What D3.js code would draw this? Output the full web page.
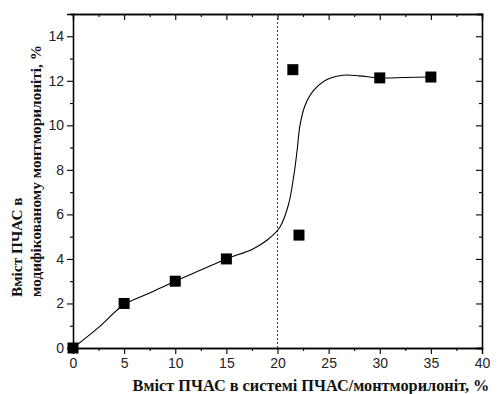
<!DOCTYPE html>
<html>
<head>
<meta charset="utf-8">
<script src="https://cdn.jsdelivr.net/npm/d3@7/dist/d3.min.js"></script>
<style>
  html, body { margin: 0; padding: 0; background: #fff; }
  svg { display: block; }
</style>
</head>
<body>
<svg id="chart" width="499" height="394"></svg>
<script>
// Measured points: PChAS content in the system vs. in the modified montmorillonite
const systemContent = [0, 5, 10, 15, 21.5, 22.1, 30, 35];
const modifiedContent = [0, 2, 3, 4, 12.5, 5.07, 12.13, 12.17];

// Fitted trend curve
const fitX = [0, 2.6, 5, 7.5, 10, 12.5, 15, 17.6, 19, 20.2, 21.05, 21.55, 21.9, 22.2, 22.7, 23.5, 24.8, 26.4, 28, 30, 32.5, 35];
const fitY = [0, 0.96, 1.95, 2.47, 3.0, 3.5, 4.0, 4.45, 4.85, 5.4, 6.4, 7.6, 8.8, 10.0, 10.9, 11.55, 12.05, 12.25, 12.22, 12.13, 12.15, 12.17];

// Critical composition marker
const thresholdX = 20;

const xTicks = [0, 5, 10, 15, 20, 25, 30, 35, 40];
const yTicks = [0, 2, 4, 6, 8, 10, 12, 14];

const xTitle = "Вміст ПЧАС в системі ПЧАС/монтморилоніт, %";
const yTitle1 = "Вміст ПЧАС в";
const yTitle2 = "модифікованому монтморилоніті, %";

const svg = d3.select("#chart");
const L = 73, R = 482, T = 14, B = 348;

const x = d3.scaleLinear().domain([0, 40]).range([L, R]);
const y = d3.scaleLinear().domain([0, 15]).range([B, T]);

const xMinor = d3.range(0, 40.01, 2.5).filter(v => v % 5 !== 0);
const yMinor = d3.range(0, 15.01, 1).filter(v => v % 2 !== 0);

const tickFont = "Liberation Sans, Arial, sans-serif";
const titleFont = "Liberation Serif, Times New Roman, serif";

function styleAxis(g) {
  g.selectAll("path.domain").attr("stroke", "#000").attr("stroke-width", 1.3);
  g.selectAll(".tick line").attr("stroke", "#000").attr("stroke-width", 1.1);
  g.selectAll("text").attr("font-family", tickFont).attr("font-size", 14).attr("fill", "#222");
}

// Bottom axis
svg.append("g").attr("transform", `translate(0,${B})`)
  .call(d3.axisBottom(x).tickValues(xTicks).tickSize(6).tickPadding(4).tickFormat(d3.format("d")))
  .call(styleAxis);
svg.append("g").attr("transform", `translate(0,${B})`)
  .call(d3.axisBottom(x).tickValues(xMinor).tickSize(3).tickFormat(""))
  .call(styleAxis);

// Top axis (ticks pointing down into the plot)
svg.append("g").attr("transform", `translate(0,${T})`)
  .call(d3.axisBottom(x).tickValues(xTicks).tickSize(6).tickFormat(""))
  .call(styleAxis);
svg.append("g").attr("transform", `translate(0,${T})`)
  .call(d3.axisBottom(x).tickValues(xMinor).tickSize(3).tickFormat(""))
  .call(styleAxis);

// Left axis
svg.append("g").attr("transform", `translate(${L},0)`)
  .call(d3.axisLeft(y).tickValues(yTicks).tickSize(6).tickPadding(3).tickFormat(d3.format("d")))
  .call(styleAxis);
svg.append("g").attr("transform", `translate(${L},0)`)
  .call(d3.axisLeft(y).tickValues(yMinor).tickSize(3).tickFormat(""))
  .call(styleAxis);

// Right axis (ticks pointing left into the plot)
svg.append("g").attr("transform", `translate(${R},0)`)
  .call(d3.axisLeft(y).tickValues(yTicks).tickSize(6).tickFormat(""))
  .call(styleAxis);
svg.append("g").attr("transform", `translate(${R},0)`)
  .call(d3.axisLeft(y).tickValues(yMinor).tickSize(3).tickFormat(""))
  .call(styleAxis);

// Dashed vertical line at the threshold composition
svg.append("line")
  .attr("x1", x(thresholdX)).attr("x2", x(thresholdX))
  .attr("y1", y(15)).attr("y2", y(0))
  .attr("stroke", "#333").attr("stroke-width", 1).attr("stroke-dasharray", "2,2");

// Trend curve
const fit = fitX.map((v, i) => [v, fitY[i]]);
svg.append("path")
  .datum(fit)
  .attr("fill", "none")
  .attr("stroke", "#000")
  .attr("stroke-width", 1.1)
  .attr("d", d3.line().x(d => x(d[0])).y(d => y(d[1])).curve(d3.curveCatmullRom.alpha(0.5)));

// Square markers
const ms = 11;
svg.append("g").selectAll("rect")
  .data(systemContent.map((v, i) => [v, modifiedContent[i]]))
  .join("rect")
  .attr("x", d => x(d[0]) - ms / 2)
  .attr("y", d => y(d[1]) - ms / 2)
  .attr("width", ms).attr("height", ms)
  .attr("fill", "#000");

// Axis titles
svg.append("text")
  .attr("x", 311).attr("y", 391)
  .attr("text-anchor", "middle")
  .attr("font-family", titleFont).attr("font-weight", "bold").attr("font-size", 16.3)
  .attr("fill", "#111")
  .text(xTitle);

const yStart = 297;
svg.append("text")
  .attr("transform", `translate(22,${yStart}) rotate(-90)`)
  .attr("text-anchor", "start")
  .attr("font-family", titleFont).attr("font-weight", "bold").attr("font-size", 15.3)
  .attr("fill", "#111")
  .text(yTitle1);
svg.append("text")
  .attr("transform", `translate(41,${yStart}) rotate(-90)`)
  .attr("text-anchor", "start")
  .attr("font-family", titleFont).attr("font-weight", "bold").attr("font-size", 15.3)
  .attr("fill", "#111")
  .text(yTitle2);
</script>
</body>
</html>
